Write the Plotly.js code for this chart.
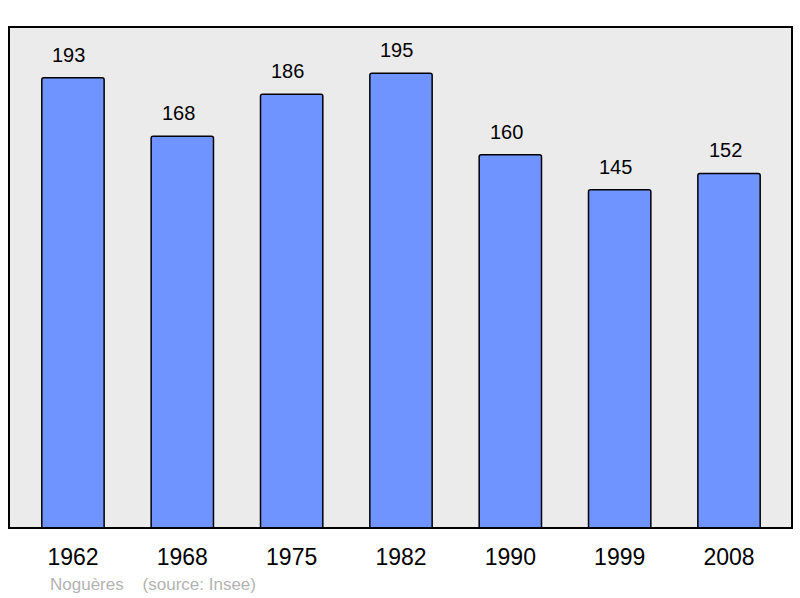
<!DOCTYPE html>
<html>
<head>
<meta charset="utf-8">
<script src="https://cdn.plot.ly/plotly-3.0.1.min.js"></script>
<style>html,body{margin:0;padding:0;background:#fff;}#chart{width:800px;height:598px;}</style>
</head>
<body>
<div id="chart"></div>
<script>
const years = ["1962", "1968", "1975", "1982", "1990", "1999", "2008"];
const population = [193, 168, 186, 195, 160, 145, 152];
const footer = "Noguères    (source: Insee)";

const trace = {
  type: "bar",
  x: years,
  y: population,
  width: 0.57,
  marker: {color: "#7094ff", line: {color: "#000", width: 1.5}, cornerradius: 2},
  hoverinfo: "none"
};

const annotations = years.map((yr, i) => ({
  x: i, y: population[i], xref: "x", yref: "y",
  text: String(population[i]), showarrow: false,
  yanchor: "bottom", yshift: 10, xshift: -4,
  font: {family: "Liberation Sans, Arial, sans-serif", size: 20, color: "#000"}
}));
annotations.push({
  xref: "paper", yref: "paper", x: 0.05, y: -0.112,
  xanchor: "left", yanchor: "middle",
  text: footer, showarrow: false,
  font: {family: "Liberation Sans, Arial, sans-serif", size: 17, color: "#b3b3b3"}
});

const layout = {
  width: 800, height: 598,
  margin: {l: 9, r: 8, t: 27, b: 70, pad: 0},
  paper_bgcolor: "#fff",
  plot_bgcolor: "#ebebeb",
  showlegend: false,
  xaxis: {
    type: "category", range: [-0.585, 6.576],
    showgrid: false, zeroline: false, showline: false,
    ticks: "outside", ticklen: 8, tickcolor: "rgba(0,0,0,0)",
    tickfont: {family: "Liberation Sans, Arial, sans-serif", size: 23, color: "#000"}
  },
  yaxis: {
    range: [0, 214.8], showgrid: false, zeroline: false,
    showticklabels: false, ticks: "", showline: false
  },
  shapes: [{
    type: "rect", xref: "paper", yref: "paper", x0: 0, x1: 1, y0: 0, y1: 1,
    line: {color: "#000", width: 2}, fillcolor: "rgba(0,0,0,0)", layer: "above"
  }],
  annotations: annotations
};

Plotly.newPlot("chart", [trace], layout, {displayModeBar: false, staticPlot: true});
</script>
</body>
</html>
